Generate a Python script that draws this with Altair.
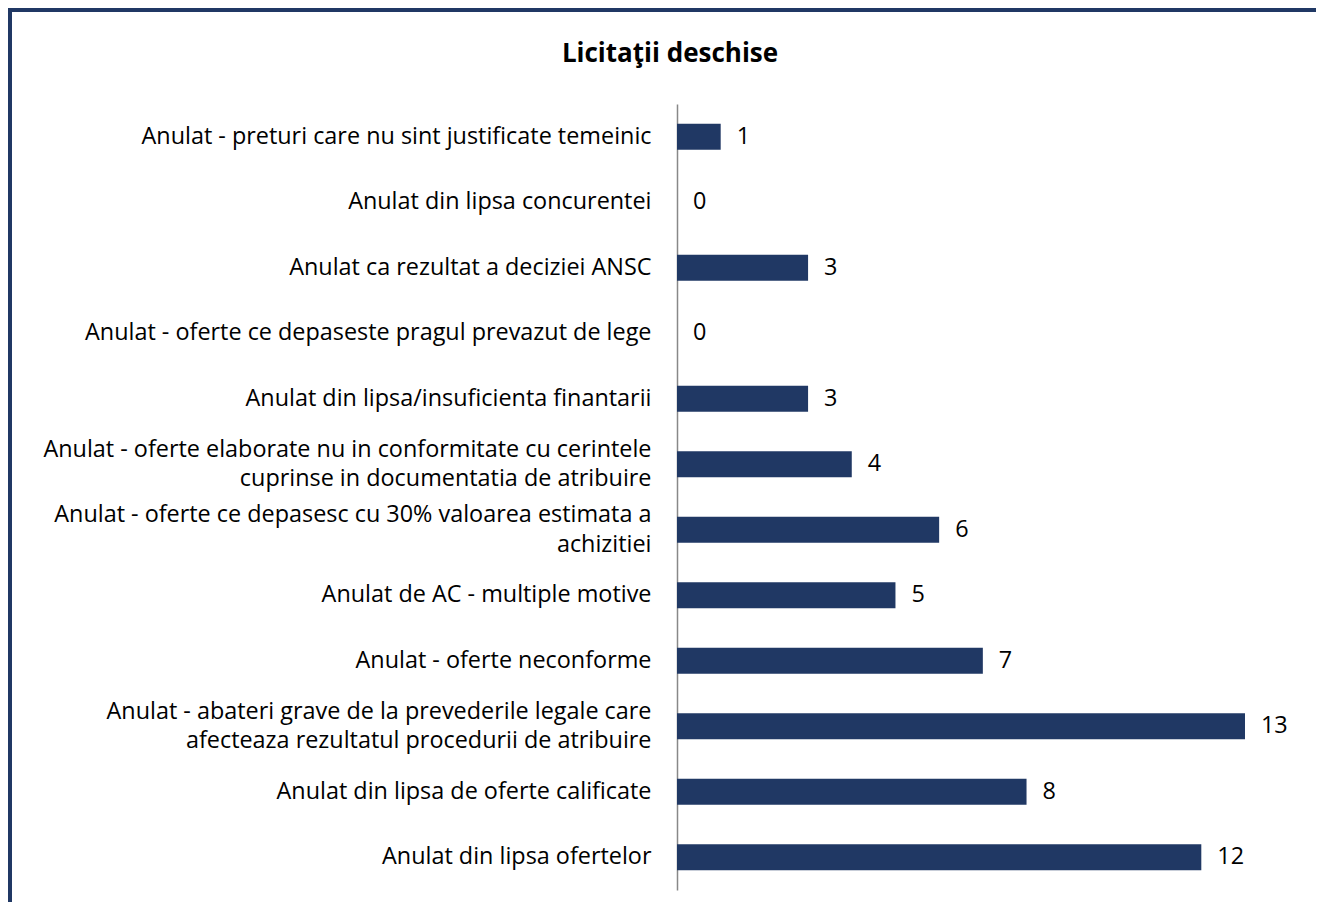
import altair as alt
import pandas as pd

categories = [
    "Anulat - preturi care nu sint justificate temeinic",
    "Anulat din lipsa concurentei",
    "Anulat ca rezultat a deciziei ANSC",
    "Anulat - oferte ce depaseste pragul prevazut de lege",
    "Anulat din lipsa/insuficienta finantarii",
    "Anulat - oferte elaborate nu in conformitate cu cerintele|cuprinse in documentatia de atribuire",
    "Anulat - oferte ce depasesc cu 30% valoarea estimata a|achizitiei",
    "Anulat de AC - multiple motive",
    "Anulat - oferte neconforme",
    "Anulat - abateri grave de la prevederile legale care|afecteaza rezultatul procedurii de atribuire",
    "Anulat din lipsa de oferte calificate",
    "Anulat din lipsa ofertelor",
]
values = [1, 0, 3, 0, 3, 4, 6, 5, 7, 13, 8, 12]
title_text = "Licitaţii deschise"

df = pd.DataFrame({"cat": categories, "val": values})

NAVY = "#203864"
FONT = "Open Sans"
FS = 23.4
LH = 29.5

W, H = 568, 786
PAD = {"left": 669, "top": 96, "right": 71, "bottom": 12}

y_enc = alt.Y(
    "cat:N",
    sort=categories,
    scale=alt.Scale(paddingInner=0.6, paddingOuter=0.3),
    axis=alt.Axis(
        title=None,
        ticks=False,
        tickSize=0,
        labelPadding=26,
        labelFont=FONT,
        labelFontSize=FS,
        labelColor="#000000",
        labelLimit=800,
        labelLineHeight=LH,
        labelExpr="split(datum.label, '|')",
        labelOffset={
            "condition": {"test": "indexof(datum.value, '|') >= 0", "value": -LH / 2},
            "value": 0,
        },
        domainColor="#888888",
        domainWidth=1.5,
        grid=False,
    ),
)
x_enc = alt.X("val:Q", scale=alt.Scale(domain=[0, 13], nice=False), axis=None)

bars = alt.Chart(df).mark_bar(color=NAVY, size=26).encode(x=x_enc, y=y_enc)
labels = alt.Chart(df).mark_text(
    align="left", baseline="middle", dx=16, font=FONT, fontSize=FS, color="#000000"
).encode(x=x_enc, y=y_enc, text="val:Q")

deco = alt.Data(values=[{"a": 1}])
top_band = alt.Chart(deco).mark_rect(color=NAVY).encode(
    x=alt.value(-669), x2=alt.value(639), y=alt.value(-96), y2=alt.value(-92)
)
left_band = alt.Chart(deco).mark_rect(color=NAVY).encode(
    x=alt.value(-669), x2=alt.value(-665), y=alt.value(-96), y2=alt.value(H + 12)
)
title = alt.Chart(deco).mark_text(
    align="center", baseline="middle", font=FONT, fontSize=26, fontWeight="bold", color="#000000"
).encode(x=alt.value(-7), y=alt.value(-50), text=alt.value(title_text))

chart = (
    alt.layer(bars, labels, top_band, left_band, title)
    .properties(width=W, height=H, padding=PAD, autosize=alt.AutoSizeParams(type="none"))
    .configure(background="#ffffff")
    .configure_view(stroke=None)
)

chart.save("out.html", embed_options={"renderer": "svg", "actions": False})
